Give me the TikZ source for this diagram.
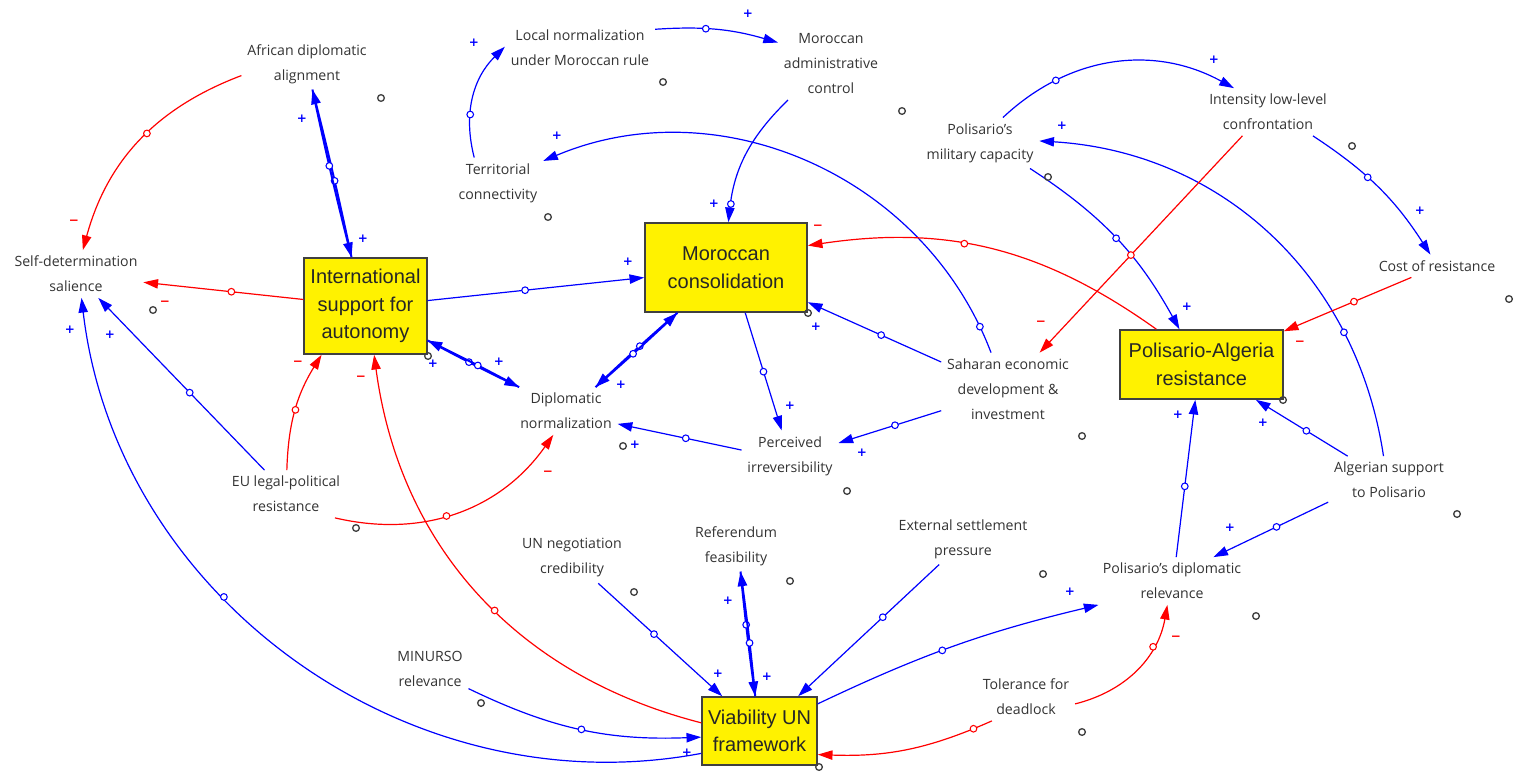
\documentclass[tikz,border=0pt]{standalone}
\usepackage{fontspec}
\setmainfont{Open Sans}
\newfontfamily\boxfont{Liberation Sans}
\newfontfamily\signfont{DejaVu Sans}
\usetikzlibrary{arrows.meta}

\begin{document}
\begin{tikzpicture}[
    x=0.75pt,y=0.75pt,
    yscale=-1,xscale=1,
    font = \fontsize{10.6}{18.75}\selectfont,
    every path/.append style ={line width = 0.9pt,},
    var/.style = {align=center, text=black!80, inner sep=4pt},
    box/.style = {draw=black!75, fill=yellow, line width=1.2pt, align=center,
        inner sep=1pt, text=black!85, font=\boxfont\fontsize{15}{20.6}\selectfont},
    bl/.style = {color=blue, -{Triangle[length=11pt,width=7pt]}},
    rd/.style = {color=red, -{Triangle[length=11pt,width=7pt]}},
    thk/.style = {line width=1.5pt},
    hdl/.style = {circle, draw, fill=white, inner sep=0pt, minimum size=5pt, line width=0.8pt},
    omark/.style = {circle, draw=black!75, inner sep=0pt, minimum size=5pt, line width=1pt},
    polp/.style = {text=blue, inner sep=0pt, font=\signfont\fontsize{9}{9}\selectfont\bfseries},
    polm/.style = {text=red, inner sep=0pt, font=\signfont\fontsize{9}{9}\selectfont\bfseries},
]
    \useasboundingbox (0,0) rectangle (1517,771);

    % 方框
    \node [box, minimum width=92pt, minimum height=72pt] (intl) at (365.5,306)
        {International\\support for\\autonomy};
    \node [box, minimum width=121.5pt, minimum height=66.75pt] (consol) at (726,267.5)
        {Moroccan\\consolidation};
    \node [box, minimum width=122.25pt, minimum height=51.75pt] (resist) at (1201.5,364.5)
        {Polisario-Algeria\\resistance};
    \node [box, minimum width=86.25pt, minimum height=51pt] (viab) at (759.5,731)
        {Viability UN\\framework};

    % 变量
    \node [var] (afr)       at (307,64)    {African diplomatic\\alignment};
    \node [var] (selfdet)   at (76,274)    {Self-determination\\salience};
    \node [var] (localnorm) at (580,48)    {Local normalization\\under Moroccan rule};
    \node [var] (admin)     at (831,64)    {Moroccan\\administrative\\control};
    \node [var] (terr)      at (498,183)   {Territorial\\connectivity};
    \node [var] (milcap)    at (980,143)   {Polisario's\\military capacity};
    \node [var] (intens)    at (1268,112)  {Intensity low-level\\confrontation};
    \node [var] (cost)      at (1437,266)  {Cost of resistance};
    \node [var] (sahara)    at (1008,389)  {Saharan economic\\development \&\\investment};
    \node [var] (dipnorm)   at (566,411)   {Diplomatic\\normalization};
    \node [var] (irrev)     at (790,456)   {Perceived\\irreversibility};
    \node [var] (eu)        at (286,494)   {EU legal-political\\resistance};
    \node [var] (unneg)     at (572,558)   {UN negotiation\\credibility};
    \node [var] (referend)  at (736,546)   {Referendum\\feasibility};
    \node [var] (extpress)  at (963,539)   {External settlement\\pressure};
    \node [var] (algsup)    at (1389,480)  {Algerian support\\to Polisario};
    \node [var] (poldip)    at (1172,581)  {Polisario's diplomatic\\relevance};
    \node [var] (toler)     at (1026,697)  {Tolerance for\\deadlock};
    \node [var] (minurso)   at (430,669)   {MINURSO\\relevance};

    % 箭头
    \draw [rd] (afr.190) to [bend left=27] node [hdl, pos=.45] (h1) {} (selfdet.74);
    \draw [bl, thk] (intl.106) to [bend left=1] node [hdl, pos=.45] (h2) {} (afr.282);
    \draw [bl, thk] (afr.282) to [bend left=1] node [hdl, pos=.45] (h3) {} (intl.106);
    \draw [rd] (intl.174) -- node [hdl, pos=.45] (h4) {} (selfdet.353);
    \draw [bl] (intl.5) -- node [hdl, pos=.45] (h5) {} (consol.187);
    \draw [bl] (localnorm.14) to [bend right=10] node [hdl, pos=.4] (h6) {} (admin.158);
    \draw [bl] (terr.133) to [bend right=30] node [hdl, pos=.35] (h7) {} (localnorm.179);
    \draw [bl] (admin.220) to [bend left=20] node [hdl, pos=.88] (h8) {} (consol.87);
    \draw [bl] (sahara.115) to [bend left=46] node [hdl, pos=.05] (h9) {} (terr.26);
    \draw [rd] (resist.142) to [bend left=22] node [hdl, pos=.58] (h10) {} (consol.15);
    \draw [bl] (sahara.158) -- node [hdl, pos=.45] (h11) {} (consol.337);
    \draw [bl, thk] (consol.223) to [bend left=1] node [hdl, pos=.45] (h12) {} (dipnorm.39);
    \draw [bl, thk] (dipnorm.39) to [bend left=1] node [hdl, pos=.45] (h13) {} (consol.223);
    \draw [bl, thk] (intl.331) to [bend left=1] node [hdl, pos=.45] (h14) {} (dipnorm.153);
    \draw [bl, thk] (dipnorm.153) to [bend left=1] node [hdl, pos=.45] (h15) {} (intl.331);
    \draw [bl] (consol.293) -- node [hdl, pos=.5] (h16) {} (irrev.108);
    \draw [bl] (sahara.198) -- node [hdl, pos=.45] (h17) {} (irrev.15);
    \draw [bl] (irrev.173) -- node [hdl, pos=.45] (h18) {} (dipnorm.346);
    \draw [bl] (eu.132) -- node [hdl, pos=.45] (h19) {} (selfdet.313);
    \draw [rd] (eu.88) to [bend right=15] node [hdl, pos=.5] (h20) {} (intl.228);
    \draw [rd] (eu.334) to [bend left=34] node [hdl, pos=.45] (h21) {} (dipnorm.242);
    \draw [rd] (viab.172) to [bend right=34] node [hdl, pos=.45] (h22) {} (intl.280);
    \draw [bl] (viab.201) to [bend right=47] node [hdl, pos=.61] (h23) {} (selfdet.283);
    \draw [bl] (minurso.333) to [bend left=14] node [hdl, pos=.5] (h24) {} (viab.186);
    \draw [bl] (unneg.316) -- node [hdl, pos=.45] (h25) {} (viab.137);
    \draw [bl, thk] (referend.280) to [bend left=1] node [hdl, pos=.42] (h26) {} (viab.97);
    \draw [bl, thk] (viab.97) to [bend left=1] node [hdl, pos=.42] (h27) {} (referend.280);
    \draw [bl] (extpress.227) -- node [hdl, pos=.4] (h28) {} (viab.42);
    \draw [bl] (viab.25) to [bend right=6] node [hdl, pos=.45] (h29) {} (poldip.198);
    \draw [rd] (toler.215) to [bend right=13] node [hdl, pos=.1] (h30) {} (viab.338);
    \draw [rd] (toler.352) to [bend left=33] node [hdl, pos=.7] (h31) {} (poldip.259);
    \draw [bl] (poldip.80) -- node [hdl, pos=.45] (h32) {} (resist.260);
    \draw [bl] (algsup.150) -- node [hdl, pos=.45] (h33) {} (resist.327);
    \draw [bl] (algsup.200) -- node [hdl, pos=.45] (h34) {} (poldip.30);
    \draw [bl] (algsup.103) to [bend left=39] node [hdl, pos=.25] (h35) {} (milcap.2);
    \draw [bl] (milcap.48) to [bend right=36] node [hdl, pos=.25] (h36) {} (intens.145);
    \draw [bl] (intens.332) to [bend right=12] node [hdl, pos=.4] (h37) {} (cost.120);
    \draw [rd] (cost.204) -- node [hdl, pos=.45] (h38) {} (resist.22);
    \draw [bl] (milcap.333) to [bend right=14] node [hdl, pos=.5] (h39) {} (resist.122);
    \draw [rd] (intens.223) -- node [hdl, pos=.55] (h40) {} (sahara.49);

    % 极性
    \node [polp] (p1)  at (302,119)  {+};
    \node [polp] (p2)  at (363,239)  {+};
    \node [polp] (p3)  at (628,262)  {+};
    \node [polp] (p4)  at (748,14)   {+};
    \node [polp] (p5)  at (474,43)   {+};
    \node [polp] (p6)  at (714,204)  {+};
    \node [polp] (p7)  at (557,136)  {+};
    \node [polp] (p8)  at (816,327)  {+};
    \node [polp] (p9)  at (621,385)  {+};
    \node [polp] (p10) at (499,362)  {+};
    \node [polp] (p11) at (433,364)  {+};
    \node [polp] (p12) at (790,406)  {+};
    \node [polp] (p13) at (862,453)  {+};
    \node [polp] (p14) at (635,445)  {+};
    \node [polp] (p15) at (110,335)  {+};
    \node [polp] (p16) at (70,330)   {+};
    \node [polp] (p17) at (687,753)  {+};
    \node [polp] (p18) at (718,674)  {+};
    \node [polp] (p19) at (728,601)  {+};
    \node [polp] (p20) at (767,677)  {+};
    \node [polp] (p21) at (1070,592) {+};
    \node [polp] (p22) at (1178,415) {+};
    \node [polp] (p23) at (1263,423) {+};
    \node [polp] (p24) at (1230,528) {+};
    \node [polp] (p25) at (1062,126) {+};
    \node [polp] (p26) at (1214,60)  {+};
    \node [polp] (p27) at (1420,211) {+};
    \node [polp] (p28) at (1187,307) {+};
    \node [polm] (m1)  at (74,222)   {−};
    \node [polm] (m2)  at (165,303)  {−};
    \node [polm] (m3)  at (818,227)  {−};
    \node [polm] (m4)  at (298,363)  {−};
    \node [polm] (m5)  at (548,473)  {−};
    \node [polm] (m6)  at (361,378)  {−};
    \node [polm] (m7)  at (1176,638) {−};
    \node [polm] (m8)  at (1300,343) {−};
    \node [polm] (m9)  at (1041,323) {−};

    % 小圆圈
    \node [omark] (o1)  at (381,98)   {};
    \node [omark] (o2)  at (153,310)  {};
    \node [omark] (o3)  at (428,356)  {};
    \node [omark] (o4)  at (663,82)   {};
    \node [omark] (o5)  at (902,111)  {};
    \node [omark] (o6)  at (548,217)  {};
    \node [omark] (o7)  at (1048,177) {};
    \node [omark] (o8)  at (1352,146) {};
    \node [omark] (o9)  at (1509,299) {};
    \node [omark] (o10) at (808,313)  {};
    \node [omark] (o11) at (1283,400) {};
    \node [omark] (o12) at (1082,436) {};
    \node [omark] (o13) at (1457,514) {};
    \node [omark] (o14) at (1256,616) {};
    \node [omark] (o15) at (1082,732) {};
    \node [omark] (o16) at (1043,574) {};
    \node [omark] (o17) at (623,446)  {};
    \node [omark] (o18) at (847,491)  {};
    \node [omark] (o19) at (790,581)  {};
    \node [omark] (o20) at (634,592)  {};
    \node [omark] (o21) at (356,528)  {};
    \node [omark] (o22) at (481,703)  {};
    \node [omark] (o23) at (819,767)  {};
\end{tikzpicture}
\end{document}
